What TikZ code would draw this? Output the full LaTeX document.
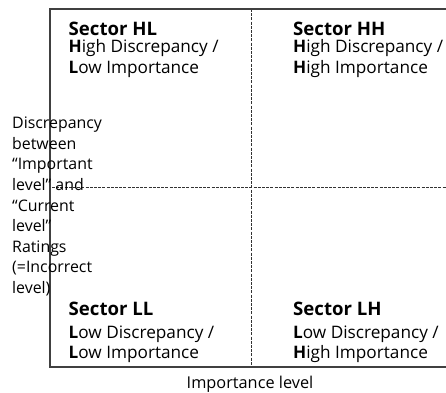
\documentclass[tikz,border=0pt]{standalone}
\usepackage{fontspec}
\setmainfont{Open Sans}
\begin{document}
\begin{tikzpicture}[x=1pt,y=-1pt,
  axisline/.style={draw=black!75,line width=1.4pt},
  divider/.style={draw=black!80,line width=0.9pt,dash pattern=on 3pt off 1.2pt},
  headtxt/.style={anchor=base west,inner sep=0pt,font=\fontsize{18.6}{20}\selectfont\bfseries},
  bodytxt/.style={anchor=north west,inner sep=0pt,align=left,font=\fontsize{17.2}{20.6}\selectfont},
  sidetxt/.style={anchor=north west,inner sep=0pt,align=left,font=\fontsize{15.9}{20.6}\selectfont}]
\useasboundingbox (0,0) rectangle (446,392);
% frame corners
\coordinate (tl) at (50,9);
\coordinate (tr) at (446,9);
\coordinate (bl) at (50,367);
\coordinate (br) at (446,367);
\coordinate (vtop) at (251,9);
\coordinate (vbot) at (251,367);
\coordinate (hleft) at (52,187);
\coordinate (hright) at (446,187);
% quadrant dividers
\draw[divider] (vtop) -- (vbot);
\draw[divider] (hleft) -- (hright);
% axes
\draw[axisline] (tr) -- (tl) -- (bl) -- (br);
% quadrant labels
\node[headtxt] (hlh) at (68.5,35) {Sector HL};
\node[bodytxt] (hlb) at (68.5,39.6) {\textbf{H}igh Discrepancy /\\\textbf{L}ow Importance};
\node[headtxt] (hhh) at (293,35) {Sector HH};
\node[bodytxt] (hhb) at (293,39.6) {\textbf{H}igh Discrepancy /\\\textbf{H}igh Importance};
\node[headtxt] (llh) at (68.5,315) {Sector LL};
\node[bodytxt] (llb) at (68.5,325.2) {\textbf{L}ow Discrepancy /\\\textbf{L}ow Importance};
\node[headtxt] (lhh) at (293,315) {Sector LH};
\node[bodytxt] (lhb) at (293,325.2) {\textbf{L}ow Discrepancy /\\\textbf{H}igh Importance};
% axis titles
\node[sidetxt] (ylab) at (12,116.8) {Discrepancy\\between\\“Important\\level” and\\“Current\\level”\\Ratings\\(=Incorrect\\level)};
\node[anchor=base,inner sep=0pt,font=\fontsize{16.3}{20}\selectfont] (xlab) at (250,388) {Importance level};
\end{tikzpicture}
\end{document}
